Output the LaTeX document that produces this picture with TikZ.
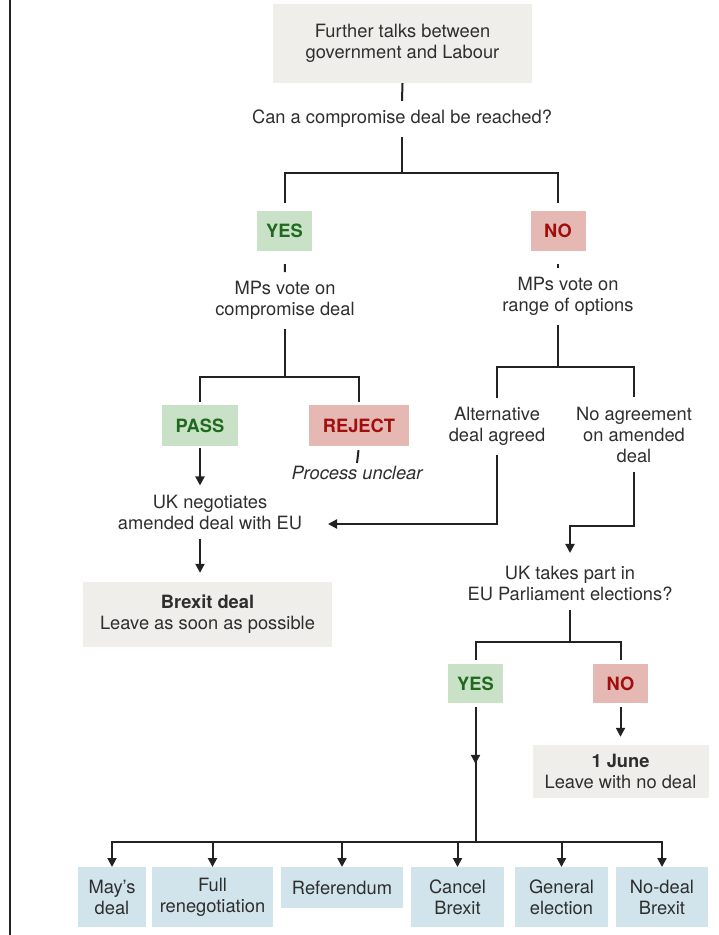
\documentclass[tikz,border=0pt]{standalone}
\usepackage{fontspec}
\setmainfont{TeX Gyre Heros}
\usetikzlibrary{arrows.meta,calc,decorations.markings}

\definecolor{ink}{HTML}{2E2E2E}
\definecolor{wire}{HTML}{222222}
\definecolor{talkgrey}{HTML}{EFEEEA}
\definecolor{yesfill}{HTML}{C9E2C7}
\definecolor{yesink}{HTML}{1F6A1F}
\definecolor{nofill}{HTML}{E6B8B3}
\definecolor{noink}{HTML}{A10E0E}
\definecolor{optfill}{HTML}{D1E4EC}

\begin{document}
\begin{tikzpicture}[x=1pt,y=-1pt,
		every node/.style={font=\fontsize{18.3}{21}\selectfont,text=ink,align=center,inner sep=9pt},
		greybox/.style={fill=talkgrey,inner sep=0pt},
		yesbox/.style={fill=yesfill,text=yesink,font=\fontsize{18.3}{21}\selectfont\bfseries,minimum height=40pt,inner sep=0pt},
		nobox/.style={fill=nofill,text=noink,font=\fontsize{18.3}{21}\selectfont\bfseries,minimum height=40pt,inner sep=0pt},
		optbox/.style={fill=optfill,anchor=north,minimum height=60pt,inner sep=0pt},
		link/.style={draw=wire,line width=2pt},
		arr/.style={link,-{Triangle[width=9pt,length=9pt]}},
		midarr/.style={link,postaction={decorate},decoration={markings,mark=at position 0.42 with {\arrow{Triangle[width=9pt,length=9pt]}}}}]
		\useasboundingbox (0,0) rectangle (718,935);
		\draw[wire,line width=2pt] (10,0) -- (10,935);
		% top of the tree
		\node[greybox,minimum width=259pt,minimum height=79pt] (talks) at (402.5,43.5) {Further talks between\\government and Labour};
		\node (q1) at (402,119) {Can a compromise deal be reached?};
		\coordinate (split1) at (402,173);
		\node[yesbox,minimum width=55pt] (yes1) at (284.5,231) {YES};
		\node[nobox,minimum width=55pt] (no1) at (558,231) {NO};
		\draw[link] (talks.south) -- (q1.north);
		\draw[link] (q1.south) -- (split1);
		\draw[link,shorten >=8pt] (split1) -| (yes1.north);
		\draw[link,shorten >=8pt] (split1) -| (no1.north);
		% yes branch
		\node (mps1) at (285,300.5) {MPs vote on\\compromise deal};
		\coordinate (split2) at (285,377);
		\node[yesbox,minimum width=76pt,minimum height=41pt] (pass) at (200,425.5) {PASS};
		\node[nobox,minimum width=100pt,minimum height=41pt] (reject) at (359,425.5) {REJECT};
		\node[inner sep=3pt,font=\fontsize{18.3}{21}\selectfont\itshape] (unclear) at (357,473) {Process unclear};
		\node (neg) at (210,512) {UK negotiates\\amended deal with EU};
		\node[greybox,minimum width=249pt,minimum height=65pt] (brexit) at (207.5,614.5) {\textbf{Brexit deal}\\Leave as soon as possible};
		\draw[link,shorten <=13pt] (yes1.south) -- (mps1.north);
		\draw[link] (mps1.south) -- (split2);
		\draw[link,shorten >=3pt] (split2) -| (pass.north);
		\draw[link,shorten >=3pt] (split2) -| (reject.north);
		\draw[link,shorten <=4pt] (reject.south) -- (unclear.north);
		\draw[arr,shorten <=2pt] (pass.south) -- (pass.south |- neg.north);
		\draw[arr,shorten >=9pt] (pass.south |- neg.south) -- (pass.south |- brexit.north);
		% no branch
		\node (mps2) at (568,296.5) {MPs vote on\\range of options};
		\coordinate (split3) at (558,367);
		\node (alt) at (497,426.5) {Alternative\\deal agreed};
		\node (noagr) at (634,434.5) {No agreement\\on amended\\deal};
		\coordinate (altin) at (328,524);
		\node (ukpart) at (570,583.5) {UK takes part in\\EU Parliament elections?};
		\coordinate (split4) at (570,642);
		\draw[link,shorten <=13pt] (no1.south) -- (no1.south |- mps2.north);
		\draw[link] (split3 |- mps2.south) -- (split3);
		\draw[link] (split3) -| (alt.north);
		\draw[link] (split3) -| (noagr.north);
		\draw[arr] (alt.south) |- (altin);
		\draw[arr,shorten >=4pt] (noagr.south) -- ++(0,54) -| (ukpart.north);
		% elections
		\node[yesbox,minimum width=55pt,minimum height=39pt] (yes2) at (475.5,683.5) {YES};
		\node[nobox,minimum width=55pt,minimum height=39pt] (no2) at (620.5,683.5) {NO};
		\node[greybox,minimum width=176pt,minimum height=53pt] (june) at (620.5,771.5) {\textbf{1 June}\\Leave with no deal};
		\coordinate (bus) at (475.5,842);
		\draw[link] (ukpart.south) -- (split4);
		\draw[link,shorten >=4pt] (split4) -| (yes2.north);
		\draw[link,shorten >=4pt] (split4) -| (no2.north);
		\draw[arr,shorten <=4pt,shorten >=8pt] (no2.south) -- (june.north);
		\draw[midarr] ([yshift=-4pt]yes2.south) -- (bus);
		% options
		\node[optbox,minimum width=68pt] (mays) at (112,867) {May’s\\deal};
		\node[optbox,minimum width=121pt] (full) at (212.5,867) {Full\\renegotiation};
		\node[optbox,minimum width=122pt,minimum height=41pt] (ref) at (342,867) {Referendum};
		\node[optbox,minimum width=93pt] (cancel) at (457.5,867) {Cancel\\Brexit};
		\node[optbox,minimum width=93pt] (general) at (561.5,867) {General\\election};
		\node[optbox,minimum width=92pt] (nodeal) at (662,867) {No-deal\\Brexit};
		\foreach \opt in {mays,full,ref,cancel,general,nodeal}
			\draw[arr] (bus) -| (\opt.north);
\end{tikzpicture}
\end{document}
